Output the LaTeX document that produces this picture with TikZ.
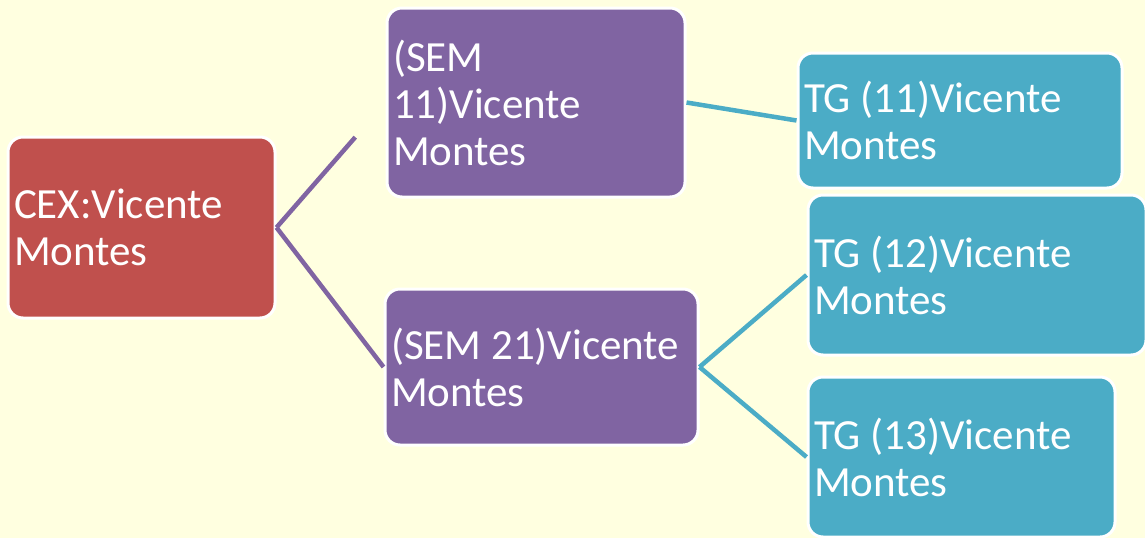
\documentclass[tikz,border=0pt]{standalone}
\usepackage{fontspec}
\setmainfont{Carlito}
\definecolor{bgyellow}{HTML}{FFFFE0}
\definecolor{cexred}{HTML}{C0504D}
\definecolor{sempurple}{HTML}{8064A2}
\definecolor{tgteal}{HTML}{4BACC6}
\begin{document}
\begin{tikzpicture}[x=1pt,y=-1pt,
    box/.style={draw=white, line width=3pt, rounded corners=15pt, text=white,
      align=flush left, inner xsep=6pt, inner ysep=0pt,
      font=\fontsize{43}{47}\selectfont},
    link/.style={line width=4.5pt}]
       \fill[bgyellow] (0,0) rectangle (1145,538);
       \useasboundingbox (0,0) rectangle (1145,538);
       \node[box, fill=cexred, text width=255pt, minimum height=181pt] (cex) at (141.5,227.5) {CEX:Vicente\\Montes};
       \node[box, fill=sempurple, text width=286pt, minimum height=189pt] (sem11) at (536,102.5) {(SEM\\11)Vicente\\Montes};
       \node[box, fill=sempurple, text width=301pt, minimum height=156pt] (sem21) at (541.5,367) {(SEM 21)Vicente\\Montes};
       \node[box, fill=tgteal, text width=312pt, minimum height=135pt] (tg11) at (960,120.5) {TG (11)Vicente\\Montes};
       \node[box, fill=tgteal, text width=326pt, minimum height=160pt] (tg12) at (977,275) {TG (12)Vicente\\Montes};
       \node[box, fill=tgteal, text width=295pt, minimum height=160pt] (tg13) at (961.5,457) {TG (13)Vicente\\Montes};
       \draw[link, sempurple, shorten >=46pt] (cex.east) -- (sem11.west);
       \draw[link, sempurple] (cex.east) -- (sem21.west);
       \draw[link, tgteal] (sem11.east) -- (tg11.west);
       \draw[link, tgteal] (sem21.east) -- (tg12.west);
       \draw[link, tgteal] (sem21.east) -- (tg13.west);
    \end{tikzpicture}
\end{document}
